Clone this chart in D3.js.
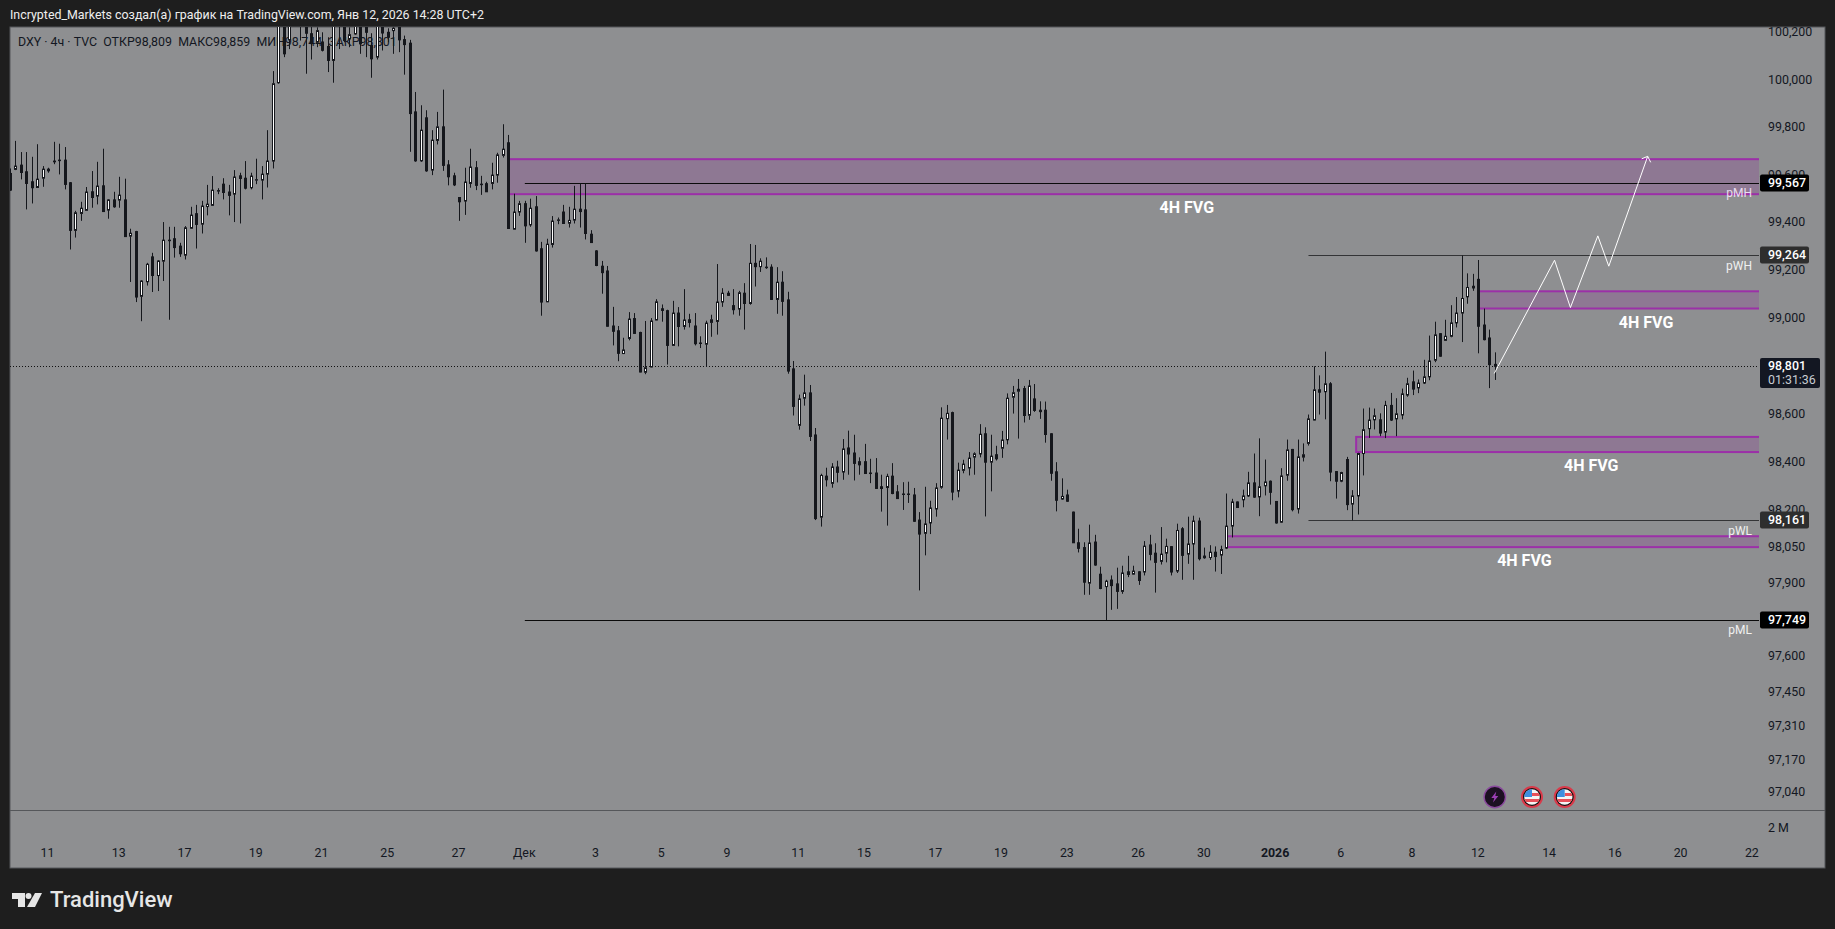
<!DOCTYPE html>
<html>
<head>
<meta charset="utf-8">
<title>DXY 4h</title>
<script src="https://cdn.jsdelivr.net/npm/d3@7"></script>
<style>
    html, body { margin: 0; padding: 0; background: #1e1e1e; overflow: hidden; }
    svg { display: block; }
    text { font-family: Roboto, "Noto Sans", sans-serif; }
</style>
</head>
<body>
<div id="chart"></div>
<script>
// open, high, low, close
const candles_nov = [
[99608,99629,99535,99538],[99625,99745,99622,99639],[99643,99698,99583,99612],[99615,99698,99457,99566],
[99573,99678,99482,99548],[99549,99731,99548,99584],[99588,99639,99552,99626],[99619,99632,99611,99626],
[99660,99741,99647,99657],[99664,99733,99604,99663],[99664,99719,99541,99562],[99569,99572,99289,99369],
[99369,99451,99339,99443],[99440,99489,99409,99462],[99453,99551,99452,99530],[99531,99618,99464,99507],
[99513,99657,99478,99555],[99556,99712,99448,99448],[99454,99500,99418,99497],[99497,99531,99464,99468],
[99496,99594,99464,99517],[99497,99586,99343,99343],[99345,99376,99153,99357],[99364,99367,99069,99090],
[99093,99160,98989,99157],[99154,99233,99138,99227],[99258,99275,99111,99180],[99180,99244,99115,99241],
[99240,99404,99157,99328],[99327,99384,98995,99328],[99334,99384,99255,99297],[99303,99317,99258,99271],
[99265,99387,99247,99380],[99378,99468,99376,99433],[99439,99476,99293,99394],[99395,99493,99356,99471],
[99469,99560,99432,99479],[99474,99597,99472,99538],[99535,99546,99521,99536],[99563,99588,99499,99528],
[99530,99560,99432,99516],[99521,99622,99404,99593],[99598,99611,99398,99587],[99588,99660,99541,99546],
[99548,99611,99541,99597],[99580,99670,99563,99582],[99580,99639,99499,99605],[99605,99790,99549,99660],
[99660,100039,99629,99986],[99990,100308,99986,100266],[100259,100280,100098,100112],[100171,100280,100132,100252],
[100250,100310,100231,100270],[100266,100294,100168,100231],[100245,100259,100028,100199],[100197,100231,100088,100155],
[100161,100224,100140,100210],[100162,100203,100122,100127],[100143,100182,100035,100084],[100084,100252,99990,100231],
[100259,100280,100132,100235],[100238,100259,100161,100168],[100175,100224,100140,100193],[100196,100259,100193,100238],
[100231,100245,100112,100154],[100238,100259,100098,100203],[100147,100199,100011,100091],[100098,100245,100088,100231],
[100224,100245,100126,100200],[100203,100220,100161,100182],[100210,100224,100112,100220],[100224,100245,100119,100171],
[100172,100189,100024,100151],[100157,100171,99699,99860],[99867,99951,99657,99661],[99661,99895,99657,99790],
[99842,99874,99615,99619],[99622,99790,99601,99748],[99747,99867,99730,99804],[99804,99961,99619,99642],
[99644,99664,99558,99594],[99598,99611,99555,99560],[99507,99509,99409,99489],[99492,99632,99434,99572],
[99566,99712,99548,99635],[99632,99660,99538,99558],[99563,99598,99518,99562],[99565,99573,99530,99531],
[99566,99653,99541,99601],[99601,99695,99569,99686],[99684,99815,99675,99710],[99737,99770,99376,99377],
[99374,99523,99373,99446],[99446,99493,99430,99481]
];
const candles_dec_a = [
[99481,99493,99317,99388],[99392,99502,99384,99462],[99468,99513,99280,99283],[99292,99321,99012,99069],
[99070,99334,99069,99311],[99310,99429,99297,99408],[99412,99423,99395,99413],[99446,99476,99397,99398],
[99399,99468,99381,99411],[99412,99556,99398,99458],[99458,99566,99381,99448],[99455,99566,99331,99356],
[99353,99370,99317,99318],[99283,99286,99219,99222],[99219,99241,99104,99192],[99199,99220,98967,98968],
[98969,99049,98888,98947],[98949,98969,98822,98855],[98854,98920,98852,98869],[98917,99027,98909,98998],
[99000,99023,98938,98938],[98942,98945,98776,98777],[98776,98990,98768,98795],[98798,99002,98797,98990],
[98994,99081,98993,99070],[99041,99059,98987,99034],[99033,99037,98808,98888],[98888,99074,98886,99023],
[99023,99048,98884,98967],[98967,99123,98954,98994],[98995,99020,98963,98984],[98969,99023,98888,98895],
[98898,98926,98877,98897],[98893,98991,98798,98981],[98984,99016,98924,98995],[98988,99228,98933,99069],
[99069,99127,99049,99106],[99106,99116,99095,99097],[99054,99123,99017,99037],[99040,99116,99012,99108],
[99106,99148,98954,99063],[99063,99312,99058,99231],[99231,99308,99134,99217],[99217,99252,99195,99240],
[99215,99256,99208,99214],[99215,99227,99078,99080],[99080,99215,99020,99152],[99152,99198,99012,99072],
[99078,99112,98770,98781],[98790,98823,98596,98634],[98555,98683,98537,98665],[98668,98766,98637,98690],
[98690,98723,98490,98509],[98515,98544,98162,98168],[98174,98354,98135,98347],[98344,98379,98301,98329],
[98314,98398,98296,98382],[98382,98408,98318,98360],[98361,98498,98329,98457],[98461,98533,98350,98436],
[98440,98516,98326,98397],[98404,98422,98350,98391],[98404,98478,98354,98355],[98357,98416,98315,98356],
[98357,98419,98291,98293],[98300,98350,98197,98293],[98297,98354,98139,98343],[98344,98398,98269,98272],
[98279,98307,98250,98251],[98270,98319,98204,98269]
];
const candles_dec_b = [
[98270,98321,98233,98269],[98266,98295,98155,98157],[98162,98195,97871,98104],[98107,98300,98016,98146],
[98150,98242,98104,98212],[98208,98315,98176,98295],[98298,98630,98292,98585],[98583,98640,98496,98605],
[98608,98612,98244,98278],[98282,98400,98256,98369],[98368,98412,98356,98394],[98378,98444,98347,98419],
[98423,98443,98350,98437],[98436,98560,98422,98518],[98520,98547,98177,98402],[98402,98516,98281,98427],
[98433,98470,98409,98416],[98460,98532,98420,98494],[98495,98688,98476,98668],[98672,98719,98604,98691],
[98697,98748,98500,98705],[98708,98719,98567,98596],[98597,98744,98578,98719],[98665,98727,98611,98617],
[98618,98655,98582,98612],[98618,98654,98483,98517],[98520,98522,98325,98356],[98362,98402,98198,98244],
[98249,98335,98246,98260],[98266,98288,98238,98240],[98195,98197,98067,98068],[98068,98126,98028,98045],
[98048,98070,97853,97905],[97901,98143,97853,98067],[98071,98101,97973,97976],[97938,97969,97876,97879],
[97887,97915,97749,97909],[97914,97933,97791,97891],[97898,97965,97795,97867],[97867,97973,97857,97943],
[97948,98014,97926,97937],[97938,97973,97937,97951],[97948,97950,97894,97912],[97947,98075,97933,98054],
[98059,98101,97995,98020],[98025,98066,97862,97987],[97991,98133,97978,98021],[98025,98085,97987,98053],
[98052,98054,97933,97947],[97951,98147,97943,98119],[98126,98133,97915,98016],[98021,98176,97981,98063],
[98063,98180,97915,98158],[98158,98172,97995,98002],[98013,98048,98002,98006],[98007,98058,97997,98029],
[98029,98053,97949,98011],[98017,98056,97939,98040],[98046,98272,98042,98137],[98137,98250,98090,98237],
[98237,98239,98212,98214],[98246,98288,98215,98262],[98262,98362,98258,98316],[98316,98438,98254,98257],
[98258,98501,98178,98300],[98304,98413,98264,98320],[98323,98326,98226,98277]
];
const candles_jan = [
[98239,98241,98147,98150],[98153,98377,98150,98345],[98348,98496,98325,98453],[98455,98457,98198,98205],
[98208,98496,98189,98424],[98423,98480,98405,98433],[98480,98600,98471,98582],[98577,98801,98576,98703],
[98703,98763,98600,98693],[98695,98862,98580,98728],[98728,98735,98323,98361],[98363,98365,98251,98323],
[98323,98362,98319,98359],[98413,98424,98203,98226],[98228,98286,98161,98262],[98262,98441,98185,98438],
[98438,98625,98347,98537],[98541,98629,98503,98577],[98578,98625,98538,98595],[98578,98605,98510,98523],
[98527,98657,98502,98638],[98638,98690,98573,98577],[98582,98668,98510,98603],[98598,98708,98580,98686],
[98681,98753,98674,98728],[98736,98783,98681,98706],[98711,98746,98689,98731],[98731,98828,98727,98757],
[98757,98929,98743,98823],[98826,98987,98818,98932],[98937,98939,98841,98843],[98909,98995,98907,98926],
[98926,99056,98922,98982],[98982,99090,98963,99023],[99023,99264,98902,99084],[99091,99189,99062,99130],
[99135,99187,99116,99128],[99164,99245,98855,98968],[98973,99042,98909,98912],[98919,98954,98710,98808],
[98809,98859,98744,98801]
];

const price_ticks = [100200, 100000, 99800, 99600, 99400, 99200, 99000, 98600, 98400, 98200, 98050, 97900, 97600, 97450, 97310, 97170, 97040];
const time_tick_bars = [7, 20, 32, 45, 57, 69, 82, 94, 107, 119, 131, 144, 156, 169, 181, 193, 206, 218, 231, 243, 256, 268, 281, 293, 305, 318];
const time_tick_labels = ['11', '13', '17', '19', '21', '25', '27', 'Дек', '3', '5', '9', '11', '15', '17', '19', '23', '26', '30', '2026', '6', '8', '12', '14', '16', '20', '22'];

// start bar, top price, bottom price, label centre bar, label price
const fvg_start = [91, 268, 245.7, 222];
const fvg_top = [99668, 99114, 98507, 98095];
const fvg_bottom = [99521, 99042, 98444, 98050];
const fvg_label_bar = [214.8, 298.6, 288.6, 276.4];
const fvg_label_price = [99466, 98985, 98387, 97994];

const level_names = ['pMH', 'pWH', 'pWL', 'pML'];
const level_prices = [99567, 99264, 98161, 97749];
const level_start = [94, 237, 237, 94];

const arrow_bars = [270.9, 281.9, 284.8, 289.8, 291.8, 298.9];
const arrow_prices = [98771, 99244, 99046, 99346, 99219, 99680];

const last_price = 98801;

(function() {
    const candles = [...candles_nov, ...candles_dec_a, ...candles_dec_b, ...candles_jan];
    const width = 1835, height = 929;
    const left = 10, right = 1825, top = 27, pane_bottom = 810, bottom = 868, plot_right = 1759;
    const ink = '#131722';

    const x = d3.scaleLinear().domain([0, candles.length - 1]).range([9.7, 1494.8]);
    const y = d3.scaleLog().domain([97749, 100200]).range([620, 33]);

    const svg = d3.select('#chart').append('svg')
        .attr('width', width)
        .attr('height', height)
        .attr('viewBox', `0 0 ${width} ${height}`);

    const defs = svg.append('defs');
    defs.append('clipPath').attr('id', 'plot-clip').append('rect')
        .attr('x', left).attr('y', top).attr('width', plot_right - left).attr('height', pane_bottom - top);
    defs.append('clipPath').attr('id', 'scale-clip').append('rect')
        .attr('x', plot_right).attr('y', top).attr('width', right - plot_right).attr('height', pane_bottom - top);

    svg.append('rect')
        .attr('x', left).attr('y', top)
        .attr('width', right - left).attr('height', bottom - top)
        .attr('fill', '#8e8f91')
        .attr('stroke', '#55575a');

    svg.append('text')
        .attr('x', 10).attr('y', 19)
        .attr('font-size', 12.4)
        .attr('fill', '#eeeeee')
        .text('Incrypted_Markets создал(а) график на TradingView.com, Янв 12, 2026 14:28 UTC+2');

    svg.append('text')
        .attr('x', 18).attr('y', 45.5)
        .attr('font-size', 12.4)
        .attr('fill', ink)
        .attr('xml:space', 'preserve')
        .style('white-space', 'pre')
        .text('DXY · 4ч · TVC  ОТКР98,809  МАКС98,859  МИН98,744  ЗАКР98,801');

    const plot = svg.append('g').attr('clip-path', 'url(#plot-clip)');

    // last price
    plot.append('line')
        .attr('x1', left).attr('x2', plot_right)
        .attr('y1', Math.round(y(last_price)) + 0.5).attr('y2', Math.round(y(last_price)) + 0.5)
        .attr('stroke', '#111')
        .attr('stroke-dasharray', '1 2');

    // fair value gaps
    plot.selectAll('.fvg')
        .data(fvg_start)
        .enter().append('rect')
        .attr('class', 'fvg')
        .attr('x', (d) => x(d))
        .attr('y', (d, i) => y(fvg_top[i]))
        .attr('width', (d) => plot_right + 4 - x(d))
        .attr('height', (d, i) => y(fvg_bottom[i]) - y(fvg_top[i]))
        .attr('fill', 'rgba(147,28,155,0.2)')
        .attr('stroke', '#9c2fa8')
        .attr('stroke-width', 2);

    // levels
    plot.selectAll('.level')
        .data(level_prices)
        .enter().append('line')
        .attr('class', 'level')
        .attr('x1', (d, i) => x(level_start[i]))
        .attr('x2', plot_right)
        .attr('y1', (d) => Math.round(y(d)) + 0.5)
        .attr('y2', (d) => Math.round(y(d)) + 0.5)
        .attr('stroke', (d, i) => (i === 1 || i === 2) ? '#333436' : '#0b0b0b')
        .attr('stroke-width', (d, i) => (i === 1 || i === 2) ? 1 : 1.2);

    // candles
    const bars = plot.selectAll('.bar')
        .data(candles)
        .enter().append('g')
        .attr('class', 'bar')
        .attr('transform', (d, i) => `translate(${Math.round(x(i))},0)`);

    bars.append('line')
        .attr('x1', 0.5).attr('x2', 0.5)
        .attr('y1', (d) => y(d[1]))
        .attr('y2', (d) => y(d[2]))
        .attr('stroke', '#15171c');

    bars.append('rect')
        .attr('x', -0.5)
        .attr('y', (d) => y(Math.max(d[0], d[3])))
        .attr('width', 2)
        .attr('height', (d) => Math.max(0.5, Math.abs(y(d[0]) - y(d[3]))))
        .attr('fill', (d) => d[3] >= d[0] ? '#ffffff' : '#15171c')
        .attr('stroke', '#15171c');

    // labels of the gaps
    plot.selectAll('.fvg-label')
        .data(fvg_label_bar)
        .enter().append('text')
        .attr('class', 'fvg-label')
        .attr('x', (d) => x(d))
        .attr('y', (d, i) => y(fvg_label_price[i]))
        .attr('dy', '0.35em')
        .attr('text-anchor', 'middle')
        .attr('font-size', 16)
        .attr('font-weight', 700)
        .attr('fill', '#ffffff')
        .text('4H FVG');

    // level names
    plot.selectAll('.level-label')
        .data(level_prices)
        .enter().append('text')
        .attr('class', 'level-label')
        .attr('x', 1752)
        .attr('y', (d) => y(d) + 10)
        .attr('dy', '0.35em')
        .attr('text-anchor', 'end')
        .attr('font-size', 12)
        .attr('fill', (d, i) => i === 0 ? '#eadcf0' : '#f0f0f0')
        .text((d, i) => level_names[i]);

    // forecast path
    const arrow_points = arrow_bars.map((b, i) => [x(b), y(arrow_prices[i])]);
    plot.append('path')
        .attr('d', d3.line()(arrow_points))
        .attr('fill', 'none')
        .attr('stroke', '#ffffff')
        .attr('stroke-width', 1);
    const [tip_x, tip_y] = arrow_points[arrow_points.length - 1];
    plot.append('path')
        .attr('d', `M${tip_x - 6},${tip_y + 2.5}L${tip_x},${tip_y}L${tip_x + 3},${tip_y + 6}`)
        .attr('fill', 'none')
        .attr('stroke', '#ffffff')
        .attr('stroke-width', 1);

    // event badges
    const badge_y = 797;
    const bolt = plot.append('g').attr('transform', `translate(${x(271)},${badge_y})`);
    bolt.append('circle').attr('r', 10.7).attr('fill', '#1c1022').attr('stroke', '#8b4a9e').attr('stroke-width', 1.4);
    bolt.append('path').attr('d', 'M1.5,-5.5L-3.5,1L-0.5,1L-1.8,5.5L3.5,-1L0.5,-1Z').attr('fill', '#9c3fb5');

    [1532, 1564.7].forEach(function(cx, i) {
        const id = 'flag-clip-' + i;
        defs.append('clipPath').attr('id', id).append('circle').attr('r', 7.8);
        const flag = plot.append('g').attr('transform', `translate(${cx},${badge_y})`);
        flag.append('circle').attr('r', 11).attr('fill', '#d93a4a');
        flag.append('circle').attr('r', 9).attr('fill', '#111');
        const inner = flag.append('g').attr('clip-path', `url(#${id})`);
        inner.append('rect').attr('x', -9).attr('y', -9).attr('width', 18).attr('height', 18).attr('fill', '#f4f4f4');
        inner.append('rect').attr('x', 0).attr('y', -4).attr('width', 9).attr('height', 3).attr('fill', '#e8505a');
        inner.append('rect').attr('x', -9).attr('y', 2).attr('width', 18).attr('height', 3).attr('fill', '#e8505a');
        inner.append('rect').attr('x', -9).attr('y', -9).attr('width', 9).attr('height', 9).attr('fill', '#3d8fe0');
    });

    // pane separator
    svg.append('line')
        .attr('x1', left).attr('x2', right)
        .attr('y1', pane_bottom + 0.5).attr('y2', pane_bottom + 0.5)
        .attr('stroke', '#55575a');

    // price scale
    const price_axis = d3.axisRight(y)
        .tickValues(price_ticks)
        .tickSize(0)
        .tickPadding(9)
        .tickFormat(d3.format(','));

    const price_g = svg.append('g')
        .attr('clip-path', 'url(#scale-clip)')
        .append('g')
        .attr('transform', `translate(${plot_right},-1)`)
        .call(price_axis);
    price_g.select('.domain').remove();
    price_g.selectAll('text')
        .attr('font-family', 'Roboto, "Noto Sans", sans-serif')
        .attr('font-size', 12.4)
        .attr('fill', ink);

    // price tags
    const tag_fill = ['#000000', '#2e2e2e', '#2e2e2e', '#000000'];
    const tags = svg.selectAll('.tag')
        .data(level_prices)
        .enter().append('g')
        .attr('class', 'tag')
        .attr('transform', (d) => `translate(${plot_right + 1},${Math.round(y(d))})`);
    tags.append('rect')
        .attr('y', -8.5).attr('width', 49).attr('height', 17).attr('rx', 2)
        .attr('fill', (d, i) => tag_fill[i]);
    tags.append('text')
        .attr('x', 8).attr('dy', '0.35em')
        .attr('font-size', 12.4)
        .attr('font-weight', 500)
        .attr('fill', '#ffffff')
        .text(d3.format(','));

    const last_tag = svg.append('g')
        .attr('transform', `translate(${plot_right + 1},${Math.round(y(last_price))})`);
    last_tag.append('rect')
        .attr('y', -8).attr('width', 60).attr('height', 30).attr('rx', 2)
        .attr('fill', '#131722');
    last_tag.append('text')
        .attr('x', 8).attr('dy', '0.35em')
        .attr('font-size', 12.4)
        .attr('font-weight', 500)
        .attr('fill', '#ffffff')
        .text(d3.format(',')(last_price));
    last_tag.append('text')
        .attr('x', 8).attr('y', 14).attr('dy', '0.35em')
        .attr('font-size', 12.4)
        .attr('fill', '#c8ccd2')
        .text('01:31:36');

    svg.append('text')
        .attr('x', 1768).attr('y', 828).attr('dy', '0.35em')
        .attr('font-size', 12.4)
        .attr('fill', ink)
        .text('2 М');

    // time scale
    const time_axis = d3.axisBottom(x)
        .tickValues(time_tick_bars)
        .tickSize(0)
        .tickPadding(0)
        .tickFormat((d, i) => time_tick_labels[i]);

    const time_g = svg.append('g')
        .attr('transform', 'translate(-1,848)')
        .call(time_axis);
    time_g.select('.domain').remove();
    time_g.selectAll('text')
        .attr('font-family', 'Roboto, "Noto Sans", sans-serif')
        .attr('font-size', 12.4)
        .attr('font-weight', (d, i) => time_tick_labels[i] === '2026' ? 700 : 400)
        .attr('fill', ink);

    // logo
    const logo = svg.append('g').attr('fill', '#e6e6e6');
    logo.append('path').attr('d', 'M12,893H25V907H18V899H12Z');
    logo.append('circle').attr('cx', 28.5).attr('cy', 896).attr('r', 3);
    logo.append('path').attr('d', 'M35,893H42L35,907H27Z');
    logo.append('text')
        .attr('x', 50).attr('y', 907)
        .attr('font-family', 'Inter, Roboto, sans-serif')
        .attr('font-size', 22)
        .attr('font-weight', 500)
        .text('TradingView');
}());
</script>
</body>
</html>
